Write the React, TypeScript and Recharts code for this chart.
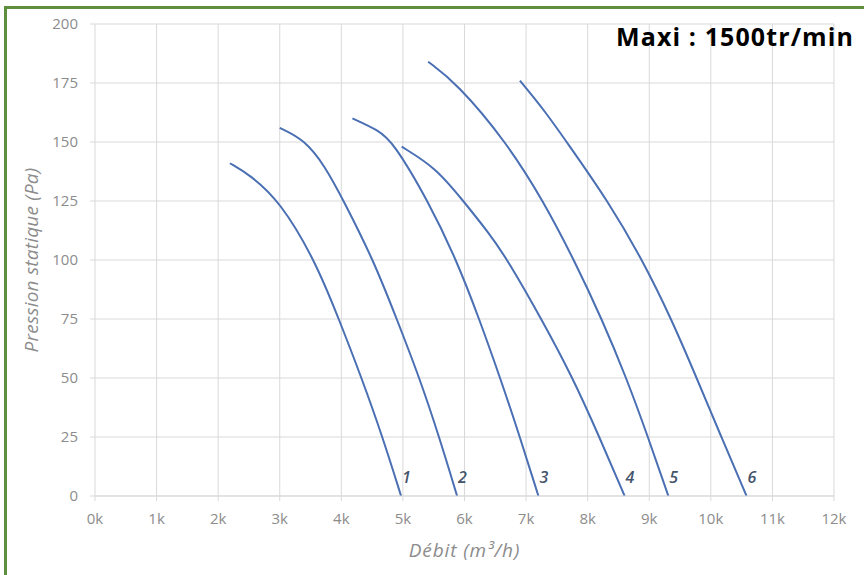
import React from "react";
import { LineChart, Line, XAxis, YAxis, CartesianGrid, Label } from "recharts";

// Curve values: débit (m³/h) and pression statique (Pa)
const debit1 = [2190, 2520, 3000, 3570, 3960, 4330, 4670, 4970];
const pression1 = [141, 136, 125, 100, 75, 50, 25, 0];

const debit2 = [3000, 3400, 3730, 4040, 4520, 4900, 5270, 5590, 5880];
const pression2 = [156, 151, 140, 125, 100, 75, 50, 25, 0];

const debit3 = [4180, 4600, 4840, 5410, 5870, 6240, 6580, 6900, 7200];
const pression3 = [160, 155, 150, 125, 100, 75, 50, 25, 0];

const debit4 = [4980, 5540, 5980, 6410, 6700, 7250, 7760, 8190, 8600];
const pression4 = [148, 139, 125, 111, 100, 75, 50, 25, 0];

const debit5 = [5410, 5870, 6680, 7280, 7780, 8230, 8630, 8980, 9310];
const pression5 = [184, 175, 150, 125, 100, 75, 50, 25, 0];

const debit6 = [6900, 7280, 7660, 8330, 8890, 9360, 9770, 10170, 10580];
const pression6 = [176, 164, 150, 125, 100, 75, 50, 25, 0];

const curveLabels = ["1", "2", "3", "4", "5", "6"];
const xTicks = [0, 1000, 2000, 3000, 4000, 5000, 6000, 7000, 8000, 9000, 10000, 11000, 12000];
const yTicks = [0, 25, 50, 75, 100, 125, 150, 175, 200];

const curves = [
  [debit1, pression1],
  [debit2, pression2],
  [debit3, pression3],
  [debit4, pression4],
  [debit5, pression5],
  [debit6, pression6],
].map(([xs, ys]) => xs.map((x, i) => ({ debit: x, pression: ys[i] })));

const FONT = "'Open Sans', Lato, sans-serif";
const GRID = "#d9d9d9";
const TICK = "#8c8c8c";
const LINE = "#4a6fb3";

const makeEndLabel = (name: string, n: number) => (props: any) => {
  const { x, y, index } = props;
  if (index !== n - 1) return <g />;
  return (
    <text
      x={x + 1}
      y={y - 13}
      fontFamily={FONT}
      fontSize={16}
      fontStyle="italic"
      fontWeight={600}
      fill="#44546a"
      textAnchor="start"
    >
      {name}
    </text>
  );
};

export default function App() {
  return (
    <div style={{ position: "absolute", left: 0, top: 0, width: 864, height: 575, background: "#fff" }}>
      <div
        style={{
          position: "absolute",
          left: 4,
          top: 6,
          right: 0,
          bottom: 0,
          borderTop: "3px solid #5e8e3e",
          borderLeft: "3px solid #5e8e3e",
        }}
      />
      <div style={{ position: "absolute", left: 0, top: 0 }}>
        <LineChart
          width={864}
          height={575}
          margin={{ top: 24, right: 30, bottom: 29, left: 0 }}
        >
          <CartesianGrid stroke={GRID} strokeWidth={1} />
          <XAxis
            type="number"
            dataKey="debit"
            domain={[0, 12000]}
            ticks={xTicks}
            interval={0}
            height={50}
            tickFormatter={(v: number) => `${v / 1000}k`}
            tick={{ fill: TICK, fontSize: 15, fontFamily: FONT }}
            tickLine={{ stroke: GRID }}
            tickSize={5}
            tickMargin={12}
            axisLine={{ stroke: GRID }}
            allowDataOverflow
          >
            <Label
              content={(p: any) => {
                const vb = p.viewBox;
                return (
                  <text
                    x={vb.x + vb.width / 2}
                    y={vb.y + 61}
                    textAnchor="middle"
                    fontFamily={FONT}
                    fontSize={19}
                    letterSpacing={0.9}
                    fontStyle="italic"
                    fill={TICK}
                  >
                    Débit (m³/h)
                  </text>
                );
              }}
            />
          </XAxis>
          <YAxis
            type="number"
            dataKey="pression"
            domain={[0, 200]}
            ticks={yTicks}
            interval={0}
            width={95}
            tick={{ fill: TICK, fontSize: 15, fontFamily: FONT }}
            tickLine={{ stroke: GRID }}
            tickSize={5}
            tickMargin={12}
            axisLine={false}
            allowDataOverflow
          >
            <Label
              content={(p: any) => {
                const vb = p.viewBox;
                const cx = vb.x + 38;
                const cy = vb.y + vb.height / 2;
                return (
                  <text
                    x={cx}
                    y={cy}
                    transform={`rotate(-90, ${cx}, ${cy})`}
                    textAnchor="middle"
                    fontFamily={FONT}
                    fontSize={19}
                    letterSpacing={0.2}
                    fontStyle="italic"
                    fill={TICK}
                  >
                    Pression statique (Pa)
                  </text>
                );
              }}
            />
          </YAxis>
          {curves.map((data, i) => (
            <Line
              key={i}
              data={data}
              dataKey="pression"
              type="basis"
              stroke={LINE}
              strokeWidth={2}
              dot={false}
              activeDot={false}
              isAnimationActive={false}
              label={makeEndLabel(curveLabels[i], data.length)}
            />
          ))}
        </LineChart>
      </div>
      <div
        style={{
          position: "absolute",
          right: 10,
          top: 21,
          fontFamily: "'Open Sans', sans-serif",
          fontWeight: 700,
          fontSize: 25,
          letterSpacing: "1.1px",
          color: "#000",
          lineHeight: "30px",
          whiteSpace: "nowrap",
        }}
      >
        Maxi : 1500tr/min
      </div>
    </div>
  );
}
